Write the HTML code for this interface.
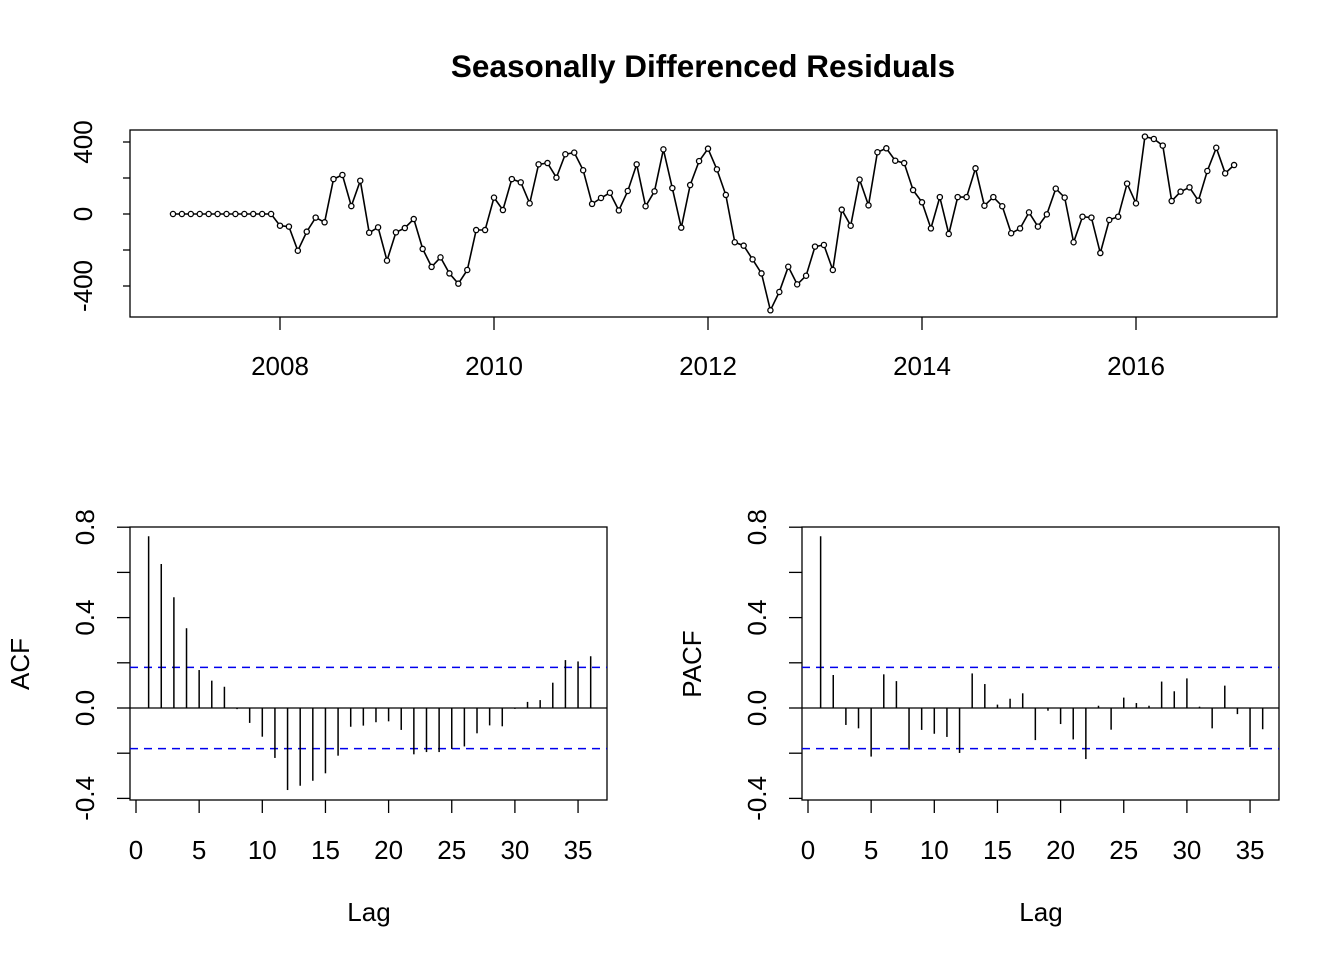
<!DOCTYPE html>
<html><head><meta charset="utf-8"><style>
html,body{margin:0;padding:0;background:#fff}
svg{display:block;font-family:"Liberation Sans",Arial,sans-serif}
</style></head><body>
<svg id="chart" width="1344" height="960" viewBox="0 0 1344 960" xmlns="http://www.w3.org/2000/svg">
<text x="703" y="77" text-anchor="middle" font-size="31.5" font-weight="bold">Seasonally Differenced Residuals</text>
<g id="top"></g>
<g id="acf"></g>
<g id="pacf"></g>
</svg>
<script>
const residuals = [0,0,0,0,0,0,0,0,0,0,0,0,
-65,-70,-204,-98,-20,-46,194,217,44,185,-104,-74,
-259,-102,-78,-28,-194,-294,-241,-330,-387,-311,-89,-89,
91,22,194,176,59,276,283,202,332,341,243,56,
89,118,20,128,276,43,126,359,144,-76,161,294,
363,248,106,-157,-176,-252,-330,-535,-433,-293,-391,-343,
-181,-172,-311,24,-65,191,48,343,365,296,283,133,
65,-80,94,-111,94,94,254,46,94,43,-107,-80,
9,-70,-2,141,91,-157,-15,-20,-217,-33,-15,169,
59,430,417,380,72,124,148,74,239,368,226,272];
const startYear = 2007;
const yearTicks = [2008,2010,2012,2014,2016];
const topYTicks = [-400,-200,0,200,400];
const topYLabels = ["-400","","0","","400"];
const acfValues = [0.76,0.637,0.49,0.353,0.168,0.121,0.094,-0.005,-0.066,-0.127,-0.221,-0.363,-0.344,-0.322,-0.289,-0.211,-0.083,-0.078,-0.063,-0.059,-0.097,-0.205,-0.195,-0.195,-0.181,-0.17,-0.112,-0.077,-0.081,-0.004,0.027,0.035,0.112,0.212,0.206,0.229];
const pacfValues = [0.76,0.146,-0.075,-0.09,-0.215,0.149,0.119,-0.184,-0.097,-0.114,-0.128,-0.199,0.153,0.106,0.015,0.041,0.065,-0.142,-0.012,-0.071,-0.139,-0.226,0.01,-0.096,0.046,0.022,0.01,0.117,0.074,0.131,0.006,-0.09,0.099,-0.027,-0.173,-0.094];
const confLimit = 0.18;
const lagTicks = [0,5,10,15,20,25,30,35];
const corrTicks = [-0.4,-0.2,0,0.2,0.4,0.6,0.8];
const corrLabels = ["-0.4","","0.0","","0.4","","0.8"];

const NS="http://www.w3.org/2000/svg";
const FS=26;
function mk(parent,tag,attrs){const e=document.createElementNS(NS,tag);for(const k in attrs)e.setAttribute(k,attrs[k]);parent.appendChild(e);return e;}

(function(){
  const g=document.getElementById('top');
  const x=t=>173+(t-startYear)*107;
  const y=v=>214-v*0.18;
  const box=mk(g,'rect',{x:130,y:130,width:1147,height:187,fill:'none',stroke:'#000','stroke-width':1.3});
  
  
  let d='';
  residuals.forEach((v,i)=>{d+=(i?'L':'M')+x(startYear+i/12).toFixed(1)+' '+y(v).toFixed(1);});
  const line=mk(g,'path',{d:d,fill:'none',stroke:'#000','stroke-width':1.6});
  
  
  residuals.forEach((v,i)=>{
    const c=mk(g,'circle',{cx:x(startYear+i/12),cy:y(v),r:2.6,fill:'#fff',stroke:'#000','stroke-width':1.3});
    
    
  });
  yearTicks.forEach(t=>{
    const l=mk(g,'line',{x1:x(t),x2:x(t),y1:317,y2:330,stroke:'#000','stroke-width':1.3});
    
    
    const tx=mk(g,'text',{x:x(t),y:375,'text-anchor':'middle','font-size':FS});
    tx.textContent=t;
    
    
  });
  topYTicks.forEach((v,i)=>{
    const l=mk(g,'line',{x1:123,x2:130,y1:y(v),y2:y(v),stroke:'#000','stroke-width':1.3});
    
    
    if(topYLabels[i]){
      const tx=mk(g,'text',{x:92,y:y(v),'text-anchor':'middle','font-size':FS,transform:`rotate(-90 92 ${y(v)})`});
      tx.textContent=topYLabels[i];
      
      
    }
  });
})();

function corrPanel(id,vals,x0,label){
  const g=document.getElementById(id);
  const x=l=>x0+l*12.63;
  const y=v=>708-v*226;
  const box=mk(g,'rect',{x:x0-6,y:527,width:477,height:273,fill:'none',stroke:'#000','stroke-width':1.3});
  
  
  const z=mk(g,'line',{x1:x0-6,x2:x0+471,y1:y(0),y2:y(0),stroke:'#000','stroke-width':1.3});
  
  
  [confLimit,-confLimit].forEach(c=>{
    const l=mk(g,'line',{x1:x0-6,x2:x0+471,y1:y(c),y2:y(c),stroke:'#0000ee','stroke-width':1.5,'stroke-dasharray':'8 6'});
    
    
  });
  vals.forEach((v,i)=>{
    const b=mk(g,'line',{x1:x(i+1),x2:x(i+1),y1:y(0),y2:y(v),stroke:'#000','stroke-width':1.5});
    
    
  });
  lagTicks.forEach(t=>{
    const l=mk(g,'line',{x1:x(t),x2:x(t),y1:800,y2:813,stroke:'#000','stroke-width':1.3});
    
    
    const tx=mk(g,'text',{x:x(t),y:859,'text-anchor':'middle','font-size':FS});
    tx.textContent=t;
    
    
  });
  corrTicks.forEach((v,i)=>{
    const l=mk(g,'line',{x1:x0-19,x2:x0-6,y1:y(v),y2:y(v),stroke:'#000','stroke-width':1.3});
    
    
    if(corrLabels[i]){
      const lx=x0-42;
      const tx=mk(g,'text',{x:lx,y:y(v),'text-anchor':'middle','font-size':FS,transform:`rotate(-90 ${lx} ${y(v)})`});
      tx.textContent=corrLabels[i];
      
      
    }
  });
  const xl=mk(g,'text',{x:x0+233,y:921,'text-anchor':'middle','font-size':FS});
  xl.textContent='Lag';
  
  
  const yx=x0-107;
  const yl=mk(g,'text',{x:yx,y:664,'text-anchor':'middle','font-size':FS,transform:`rotate(-90 ${yx} 664)`});
  yl.textContent=label;
  
  
}
corrPanel('acf',acfValues,136,'ACF');
corrPanel('pacf',pacfValues,808,'PACF');
</script>
</body></html>
